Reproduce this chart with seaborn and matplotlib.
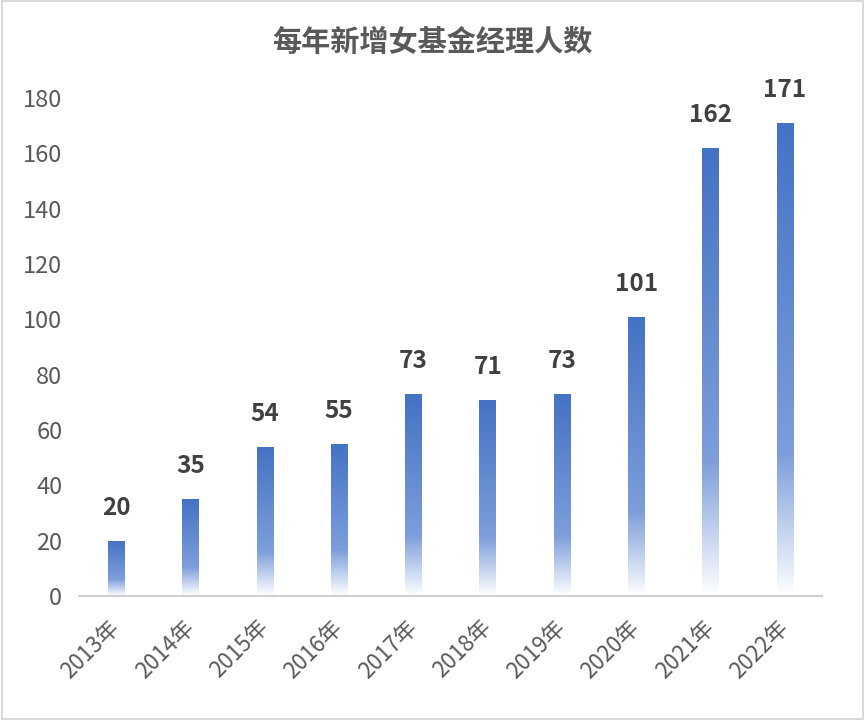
import numpy as np
import pandas as pd
import seaborn as sns
import matplotlib.pyplot as plt
from matplotlib.colors import LinearSegmentedColormap
from matplotlib.patches import Rectangle

years = ["2013年", "2014年", "2015年", "2016年", "2017年",
         "2018年", "2019年", "2020年", "2021年", "2022年"]
counts = [20, 35, 54, 55, 73, 71, 73, 101, 162, 171]

sns.set_theme(style="white")
plt.rcParams['font.family'] = ['Noto Sans CJK SC', 'DejaVu Sans']

df = pd.DataFrame({"year": years, "count": counts})

fig = plt.figure(figsize=(8.65, 7.2), dpi=100)
ax = fig.add_axes([79 / 865, 1 - 596 / 720, 743 / 865, 498 / 720])

sns.barplot(data=df, x="year", y="count", color="#4472C4", width=0.22, ax=ax)

# gradient fill: white at the bottom to blue at the top of each bar
cmap = LinearSegmentedColormap.from_list(
    "bar", [(0.0, "#ffffff"), (0.3, "#7d9edb"), (1.0, "#4472c4")])
grad = np.linspace(0, 1, 256).reshape(-1, 1)
for p in ax.patches:
    x0, y0 = p.get_x(), p.get_y()
    w, h = p.get_width(), p.get_height()
    p.set_facecolor("none")
    p.set_edgecolor("none")
    im = ax.imshow(grad, cmap=cmap, origin="lower", aspect="auto",
                   extent=[x0, x0 + w, y0, y0 + h], zorder=2)
    im.set_clip_path(p)
    ax.annotate(f"{int(h)}", (x0 + w / 2, y0 + h), xytext=(0, 15),
                textcoords="offset points", ha="center", va="bottom",
                fontsize=17.5, fontweight="bold", color="#404040")

ax.set_xlim(-0.5, len(years) - 0.5)
ax.set_ylim(0, 180)
ax.set_yticks(range(0, 181, 20))
ax.set_xlabel("")
ax.set_ylabel("")
ax.tick_params(axis="y", labelsize=17, labelcolor="#595959", length=0, pad=12)
ax.tick_params(axis="x", labelsize=16, labelcolor="#595959", length=0, pad=20)
plt.setp(ax.get_xticklabels(), rotation=45, ha="right", va="center",
         rotation_mode="anchor")

for s in ["top", "right", "left"]:
    ax.spines[s].set_visible(False)
ax.spines["bottom"].set_color("#d0d0d0")
ax.spines["bottom"].set_linewidth(1.5)

fig.text(0.5, 1 - 42 / 720, "每年新增女基金经理人数", ha="center", va="center",
         fontsize=21, fontweight="bold", color="#595959")

fig.patches.append(Rectangle((0.002, 0.002), 0.996, 0.996, transform=fig.transFigure,
                             fill=False, edgecolor="#d9d9d9", linewidth=1.5))

fig.savefig("out.png", dpi=100)
